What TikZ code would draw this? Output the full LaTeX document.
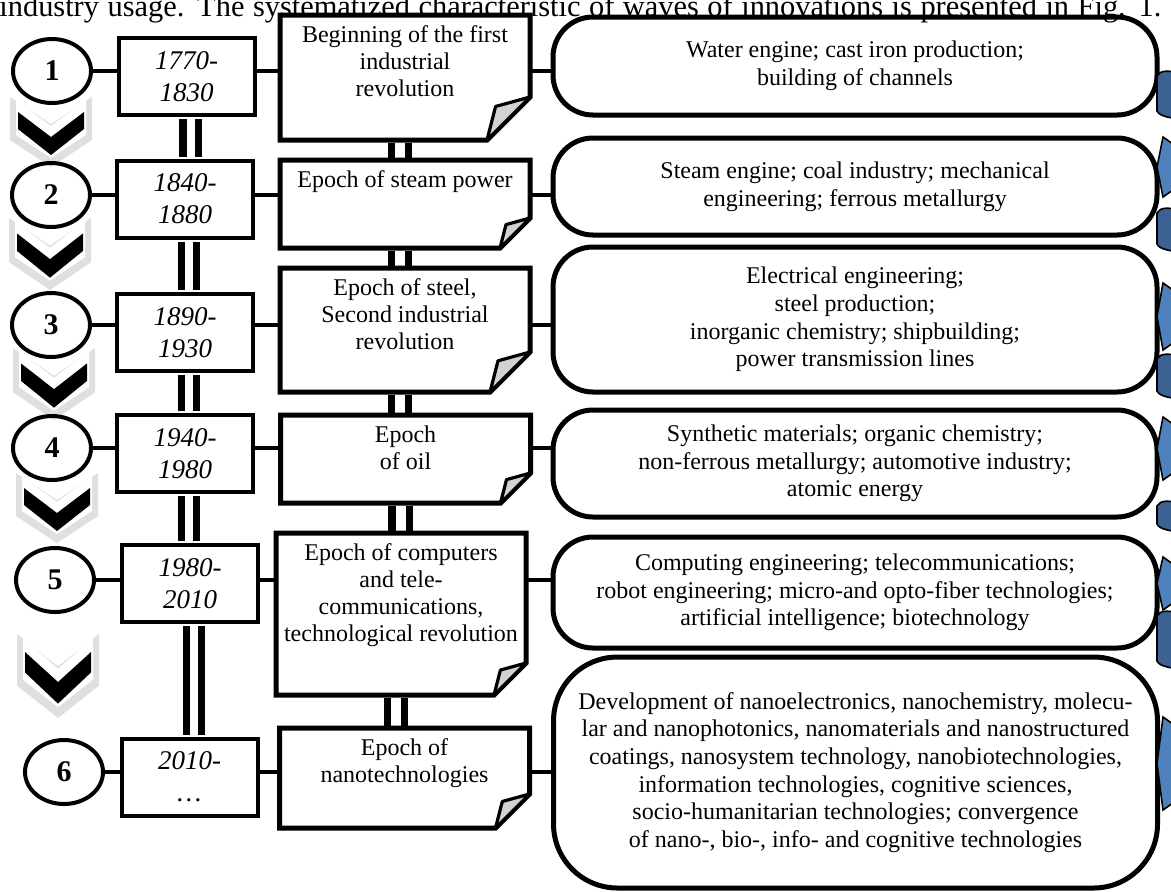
\documentclass[tikz,border=0pt]{standalone}
\usepackage{fontspec}
\setmainfont{Liberation Serif}
\usetikzlibrary{shapes.geometric}

\definecolor{arcdark}{RGB}{60,98,148}
\definecolor{arclight}{RGB}{79,129,189}

% text of a note box, set from the top
\newcommand{\notetext}[2]{\parbox[c][#1][t]{125pt}{\centering\vspace*{5.5pt}#2}}
% outline of a note box with a folded corner
\newcommand{\dogear}[2]{%
  \draw[notepen] (#1.north west) -- (#1.north east) -- ([yshift=#2]#1.south east)
    -- ([xshift=-#2]#1.south east) -- (#1.south west) -- cycle;
  \filldraw[fill=gray!35, line width=1.6pt, line join=round] ([yshift=#2]#1.south east)
    -- ([xshift=-0.8*#2, yshift=0.78*#2]#1.south east) -- ([xshift=-#2]#1.south east) -- cycle;}

\begin{document}
\begin{tikzpicture}[x=0.5pt, y=-0.5pt,
  wave/.style={draw, ellipse, line width=2pt, minimum width=39pt, minimum height=32pt, inner sep=0pt, font=\fontsize{15}{15}\selectfont\bfseries},
  period/.style={draw, rectangle, line width=2pt, minimum width=68pt, minimum height=38.5pt, inner sep=0pt, align=center, font=\fontsize{13.5}{16}\selectfont\itshape},
  epoch/.style={rectangle, inner sep=0pt, outer sep=0pt, font=\fontsize{12}{13.5}\selectfont},
  notepen/.style={line width=2.5pt, line join=miter},
  field/.style={draw, rectangle, rounded corners=20pt, line width=2.5pt, minimum width=302pt, inner sep=0pt, align=center, font=\fontsize{12}{13.8}\selectfont},
  link/.style={line width=2.4pt},
  rail/.style={double, line width=3.6pt, double distance=4pt, shorten <=1pt, shorten >=1pt},
  erail/.style={double, line width=3.6pt, double distance=5pt, shorten <=1.25pt, shorten >=1.25pt}
]
\useasboundingbox (0,0) rectangle (1171,891);

% line of text above the figure
\node[anchor=base west, inner sep=0pt, font=\fontsize{15.2}{18}\selectfont] (intro) at (-1,16)
  {\makebox[581pt][s]{industry usage. The systematized characteristic of waves of innovations is presented in Fig. 1.}};

% Chevrons between the waves
\foreach \cx/\cy/\h in {51/97/70, 50/218/72, 54/348/72, 57/473/70, 58/634/84} {
  \begin{scope}[shift={(\cx,\cy)}, yscale=\h/70]
    \fill[gray!25] (-41,0) -- (0,27) -- (41,0) -- (41,43) -- (0,70) -- (-41,43) -- cycle;
    \fill[white] (-35,3) -- (0,29) -- (35,3) -- (35,38) -- (0,61) -- (-35,38) -- cycle;
    \fill[black] (-33,15) -- (0,40) -- (33,15) -- (33,32) -- (0,58) -- (-33,32) -- cycle;
  \end{scope}
}

% Row 1: 1770-1830
\node[wave] (c1) at (52,71) {1};
\node[period] (y1) at (186.5,76.5) {1770-\\1830};
\node[epoch] (e1) at (405,77.5) {\notetext{62.5pt}{Beginning of the first\\industrial\\revolution}};
\node[field, minimum height=49pt] (r1) at (855,66) {Water engine; cast iron production;\\building of channels};

% Row 2: 1840-1880
\node[wave] (c2) at (51,195) {2};
\node[period] (y2) at (185,199) {1840-\\1880};
\node[epoch] (e2) at (405,204) {\notetext{44pt}{Epoch of steam power}};
\node[field, minimum height=48.5pt] (r2) at (855,186.5) {Steam engine; coal industry; mechanical\\engineering; ferrous metallurgy};

% Row 3: 1890-1930
\node[wave] (c3) at (51,325) {3};
\node[period] (y3) at (185,332.5) {1890-\\1930};
\node[epoch] (e3) at (405,330) {\notetext{62pt}{Epoch of steel,\\Second industrial\\revolution}};
\node[field, minimum height=72.5pt] (r3) at (855,319.5) {Electrical engineering;\\steel production;\\inorganic chemistry; shipbuilding;\\power transmission lines};

% Row 4: 1940-1980
\node[wave] (c4) at (52,448) {4};
\node[period] (y4) at (185,453.5) {1940-\\1980};
\node[epoch] (e4) at (405.5,459) {\notetext{44pt}{Epoch\\of oil}};
\node[field, minimum height=53.5pt] (r4) at (855,463.5) {Synthetic materials; organic chemistry;\\non-ferrous metallurgy; automotive industry;\\atomic energy};

% Row 5: 1980-2010
\node[wave] (c5) at (55,580) {5};
\node[period] (y5) at (190,583.5) {1980-\\2010};
\node[epoch] (e5) at (401,614) {\notetext{81pt}{Epoch of computers\\and tele-\\communications,\\technological revolution}};
\node[field, minimum height=55.5pt] (r5) at (855,592.5) {Computing engineering; telecommunications;\\robot engineering; micro-and opto-fiber technologies;\\artificial intelligence; biotechnology};

% Row 6: 2010-
\node[wave] (c6) at (64,772) {6};
\node[period] (y6) at (189.5,777) {2010-\\\ldots};
\node[epoch] (e6) at (404.5,778) {\notetext{50pt}{Epoch of\\nanotechnologies}};
\node[field, rounded corners=32pt, minimum height=115.5pt] (r6) at (855.5,772.5) {Development of nanoelectronics, nanochemistry, molecu-\\lar and nanophotonics, nanomaterials and nanostructured\\coatings, nanosystem technology, nanobiotechnologies,\\information technologies, cognitive sciences,\\socio-humanitarian technologies; convergence\\of nano-, bio-, info- and cognitive technologies};

% links along each row
\foreach \i in {1,...,6} {
  \draw[link] (c\i.east) -- (c\i.east -| y\i.west);
  \draw[link] (c\i -| y\i.east) -- (c\i -| e\i.west);
  \draw[link] (c\i -| e\i.east) -- (c\i -| r\i.west);
}

% rails between the boxes
\foreach \a/\b in {y1/y2, y2/y3, y3/y4, y4/y5, y5/y6}
  \draw[rail] ([xshift=2pt]\a.south) -- ([xshift=2pt]\a.south |- \b.north);
\foreach \a/\b in {e1/e2, e2/e3, e3/e4, e4/e5, e5/e6}
  \draw[erail] ([xshift=-2.5pt]\a.south) -- ([xshift=-2.5pt]\a.south |- \b.north);

% note outlines
\dogear{e1}{21.5pt}
\dogear{e2}{15pt}
\dogear{e3}{20pt}
\dogear{e4}{15pt}
\dogear{e5}{16pt}
\dogear{e6}{17pt}

% curved arrows at the right edge
\foreach \t/\b/\hA/\hB in {70/117/137/197, 207/250/283/350, 353/397/417/480, 500/530/557/610, 610/667/717/810} {
  \filldraw[fill=arcdark, draw=black, line width=0.8pt] (1157,\t+6) .. controls (1160,\t) and (1168,\t) .. (1185,\t+4)
    -- (1185,\b+4) .. controls (1170,\b) and (1160,\b) .. (1157,\b-6) -- cycle;
  \filldraw[fill=arclight, draw=black, line width=0.8pt] (1157,{(\hA+\hB)/2}) -- (1163,\hA) -- (1180,\hA+12)
    -- (1180,\hB-12) -- (1163,\hB) -- cycle;
}

\end{tikzpicture}
\end{document}
